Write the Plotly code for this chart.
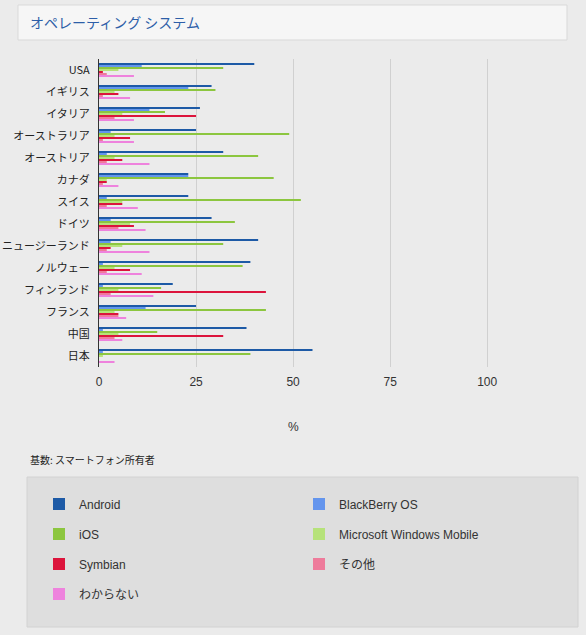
import plotly.graph_objects as go

# ---------------- data ----------------
countries = ["USA", "イギリス", "イタリア", "オーストラリア", "オーストリア", "カナダ", "スイス",
             "ドイツ", "ニュージーランド", "ノルウェー", "フィンランド", "フランス", "中国", "日本"]

android    = [40, 29, 26, 25, 32, 23, 23, 29, 41, 39, 19, 25, 38, 55]
blackberry = [11, 23, 13,  3,  2, 23,  2,  3,  3,  1,  1, 12,  1,  1]
ios        = [32, 30, 17, 49, 41, 45, 52, 35, 32, 37, 16, 43, 15, 39]
winmobile  = [ 5,  4,  6,  4,  4,  2,  6,  8,  6,  4,  5,  4,  5,  1]
symbian    = [ 1,  5, 25,  8,  6,  2,  6,  9,  3,  8, 43,  5, 32,  0]
other      = [ 2,  1,  4,  1,  2,  1,  2,  5,  2,  2,  3,  5,  4,  0]
dontknow   = [ 9,  8,  9,  9, 13,  5, 10, 12, 13, 11, 14,  7,  6,  4]

series_names = ["Android", "BlackBerry OS", "iOS", "Microsoft Windows Mobile",
                "Symbian", "その他", "わからない"]
series_values = [android, blackberry, ios, winmobile, symbian, other, dontknow]
series_colors = ["#1d5aa6", "#6495ed", "#8cc63f", "#b6e27a", "#dc143c", "#ee7b9b", "#ee82dd"]
series_legend = ["legend", "legend", "legend2", "legend2", "legend3", "legend3", "legend4"]

x_ticks = [0, 25, 50, 75, 100]
title_text = "オペレーティング システム"
axis_title = "%"
base_note = "基数: スマートフォン所有者"

# ---------------- layout geometry (pixels) ----------------
W, Hh = 586, 635
L, R = 99, 60
T, B = 59, 268
PW = W - L - R
PH = Hh - T - B

def px(x):
    return (x - L) / PW

def py(y):
    return (Hh - B - y) / PH

FONT = "Arial, 'Liberation Sans', 'Noto Sans CJK JP', sans-serif"
JFONT = "'Noto Sans CJK JP', Arial, 'Liberation Sans', sans-serif"

fig = go.Figure()
for name, vals, col, lg in zip(series_names, series_values, series_colors, series_legend):
    fig.add_trace(go.Bar(
        y=countries, x=vals, name=name, orientation="h",
        marker=dict(color=col, line=dict(width=0)),
        legend=lg,
    ))

legend_common = dict(
    orientation="h", xanchor="left", yanchor="middle",
    entrywidth=215, entrywidthmode="pixels",
    bgcolor="rgba(0,0,0,0)", borderwidth=0,
    font=dict(family=FONT, size=12, color="#333333"),
)
rows = [504, 534, 564, 594]
LX = px(39)

fig.update_layout(
    width=W, height=Hh,
    margin=dict(l=L, r=R, t=T, b=B, pad=0, autoexpand=False),
    paper_bgcolor="#ebebeb", plot_bgcolor="#ebebeb",
    barmode="group", bargap=0.36, bargroupgap=0.5,
    font=dict(family=FONT, size=12, color="#333333"),
    legend=dict(x=LX, y=py(rows[0]), **legend_common),
    legend2=dict(x=LX, y=py(rows[1]), **legend_common),
    legend3=dict(x=LX, y=py(rows[2]), **legend_common),
    legend4=dict(x=LX, y=py(rows[3]), **legend_common),
    xaxis=dict(
        range=[0, 110], tickvals=x_ticks, ticktext=[str(t) for t in x_ticks],
        showgrid=True, gridcolor="#d0d0d0", gridwidth=1,
        zeroline=False, showline=False, ticks="", automargin=False,
        ticklabelstandoff=6,
        tickfont=dict(family=FONT, size=12, color="#333333"),
        fixedrange=True,
    ),
    yaxis=dict(
        type="category", categoryorder="array", categoryarray=countries,
        autorange="reversed", showgrid=False, zeroline=False, automargin=False,
        showline=True, linecolor="#333333", linewidth=1, ticks="",
        ticklabelstandoff=6,
        tickfont=dict(family=JFONT, size=11, color="#222222"),
        fixedrange=True,
    ),
    shapes=[
        dict(type="rect", xref="paper", yref="paper", layer="below",
             x0=px(18), x1=px(567), y0=py(40), y1=py(5),
             fillcolor="#f6f6f6", line=dict(color="#d9d9d9", width=1)),
        dict(type="rect", xref="paper", yref="paper", layer="below",
             x0=px(27), x1=px(578), y0=py(627), y1=py(477),
             fillcolor="#dedede", line=dict(color="#d2d2d2", width=1)),
    ],
    annotations=[
        dict(text=title_text, xref="paper", yref="paper", x=px(28), y=py(22),
             xanchor="left", yanchor="middle", showarrow=False,
             font=dict(family=JFONT, size=14, color="#2d5ea8")),
        dict(text=axis_title, xref="x", yref="paper", x=50, y=py(427),
             xanchor="center", yanchor="middle", showarrow=False,
             font=dict(family=FONT, size=12, color="#333333")),
        dict(text=base_note, xref="paper", yref="paper", x=px(28), y=py(459),
             xanchor="left", yanchor="middle", showarrow=False,
             font=dict(family=JFONT, size=10, color="#222222")),
    ],
)

fig.write_html("out.html")
